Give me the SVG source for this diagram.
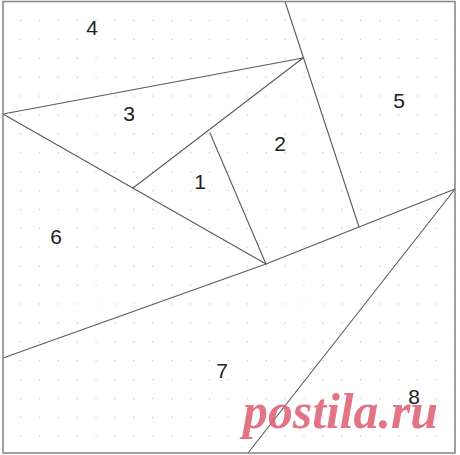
<svg xmlns="http://www.w3.org/2000/svg" width="460" height="455" viewBox="0 0 460 455">
<style>
.ln{stroke:#5a5a5a;stroke-width:1.1;fill:none;stroke-linecap:round;stroke-linejoin:round}
.lb{font-family:"Liberation Sans",Arial,sans-serif;font-size:21px;fill:#222;text-anchor:middle}
.wm{font-family:"Liberation Serif","Times New Roman",serif;font-size:50px;font-weight:bold;font-style:italic;fill:#dd5c70;opacity:0.85}
</style>
<defs>
<pattern id="dots" x="1" y="1" width="18.9" height="18.9" patternUnits="userSpaceOnUse">
<rect x="0" y="0" width="1.2" height="1.2" fill="#c4c4c4"/>
</pattern>
</defs>
<rect width="460" height="455" fill="#fff"/>
<rect x="3" y="1.5" width="452" height="451.5" fill="url(#dots)"/>
<g id="connectors">
<polyline class="ln" points="3,114 303,58 133,188"/>
<line class="ln" x1="3" y1="114" x2="266" y2="264"/>
<polyline class="ln" points="210,133 266,264"/>
<line class="ln" x1="285" y1="1.5" x2="359" y2="227"/>
<polyline class="ln" points="3,358 266,264 359,227 455,189"/>
<line class="ln" x1="455" y1="189" x2="248" y2="453"/>
</g>
<rect x="3" y="1.5" width="452" height="451.5" fill="none" stroke="#8a8a8a" stroke-width="1.6"/>
<g id="p1"><text class="lb" x="200" y="189">1</text></g>
<g id="p2"><text class="lb" x="280" y="151">2</text></g>
<g id="p3"><text class="lb" x="129" y="121">3</text></g>
<g id="p4"><text class="lb" x="92" y="35">4</text></g>
<g id="p5"><text class="lb" x="399" y="108">5</text></g>
<g id="p6"><text class="lb" x="56" y="244">6</text></g>
<g id="p7"><text class="lb" x="222" y="378">7</text></g>
<g id="p8"><text class="lb" x="414" y="404">8</text></g>
<text class="wm" x="243" y="428" textLength="195" lengthAdjust="spacingAndGlyphs">postila.ru</text>
</svg>
